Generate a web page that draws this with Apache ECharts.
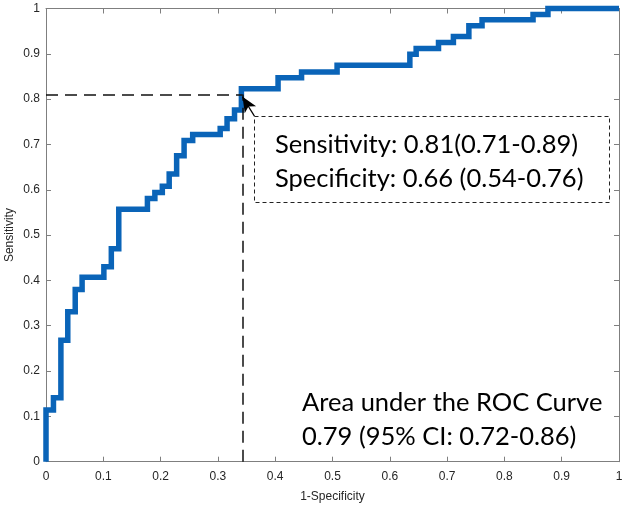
<!DOCTYPE html>
<html>
<head>
<meta charset="utf-8">
<script src="https://cdn.jsdelivr.net/npm/echarts@6/dist/echarts.min.js"></script>
<style>
html,body{margin:0;padding:0;background:#fff;}
#chart{width:625px;height:506px;}
</style>
</head>
<body>
<div id="chart"></div>
<script>
// ROC curve: x position of each upward jump (1-Specificity) and the sensitivity reached after it
const stepX = [0, 0.013, 0.026, 0.038, 0.051, 0.063, 0.101, 0.114, 0.127, 0.177, 0.19, 0.203, 0.215, 0.228, 0.241, 0.256, 0.304, 0.316, 0.329, 0.341, 0.405, 0.446, 0.508, 0.635, 0.646, 0.685, 0.711, 0.738, 0.761, 0.85, 0.876];
const stepY = [0.114, 0.141, 0.268, 0.331, 0.380, 0.407, 0.430, 0.470, 0.557, 0.581, 0.594, 0.608, 0.635, 0.675, 0.709, 0.722, 0.735, 0.757, 0.776, 0.823, 0.847, 0.860, 0.875, 0.899, 0.912, 0.925, 0.938, 0.962, 0.975, 0.987, 1.0];
const startPoint = [0, 0];
const endPoint = [1, 1];
// operating point
const cutoffX = 0.343;
const cutoffY = 0.81;
const arrowTail = [0.364, 0.762];
const tickValues = [0, 0.1, 0.2, 0.3, 0.4, 0.5, 0.6, 0.7, 0.8, 0.9, 1];
const boxLines = ['Sensitivity: 0.81(0.71-0.89)', 'Specificity: 0.66 (0.54-0.76)'];
const aucLines = ['Area under the ROC Curve', '0.79 (95% CI: 0.72-0.86)'];

const pts = [startPoint];
let prev = startPoint[1];
for (let i = 0; i < stepX.length; i++) {
  pts.push([stepX[i], prev]);
  pts.push([stepX[i], stepY[i]]);
  prev = stepY[i];
}
pts.push(endPoint);

const axisColor = '#7f7f7f';
const labelColor = '#262626';
const tickFont = 'Liberation Sans';
const annFont = 'Lato';
const annSize = 25.5;

const chart = echarts.init(document.getElementById('chart'));
const fmt = v => (tickValues.indexOf(Math.round(v * 10) / 10) >= 0 ? String(Math.round(v * 10) / 10) : '');

const baseAxis = {
  type: 'value', min: 0, max: 1, interval: 0.1,
  axisLine: {show: true, onZero: false, lineStyle: {color: axisColor, width: 1}},
  axisTick: {show: true, inside: true, length: 5, lineStyle: {color: axisColor}},
  splitLine: {show: false}
};

chart.setOption({
  animation: false,
  backgroundColor: '#fff',
  grid: {left: 46, right: 6, top: 8.5, bottom: 44.3, containLabel: false, outerBoundsMode: 'none'},
  xAxis: [
    Object.assign({}, baseAxis, {
      position: 'bottom',
      name: '1-Specificity', nameLocation: 'middle', nameGap: 29, nameMoveOverlap: false,
      nameTextStyle: {fontFamily: tickFont, fontSize: 12, color: labelColor},
      axisLabel: {fontFamily: tickFont, fontSize: 12, color: labelColor, margin: 9, formatter: fmt, showMaxLabel: true, showMinLabel: true}
    }),
    Object.assign({}, baseAxis, {position: 'top', axisLabel: {show: false}})
  ],
  yAxis: [
    Object.assign({}, baseAxis, {
      position: 'left',
      name: 'Sensitivity', nameLocation: 'middle', nameGap: 30, nameMoveOverlap: false,
      nameTextStyle: {fontFamily: tickFont, fontSize: 12, color: labelColor},
      axisLabel: {fontFamily: tickFont, fontSize: 12, color: labelColor, margin: 6, formatter: fmt}
    }),
    Object.assign({}, baseAxis, {position: 'right', axisLabel: {show: false}})
  ],
  series: [
    {
      type: 'line',
      data: pts,
      showSymbol: false,
      symbol: 'none',
      clip: false,
      lineStyle: {color: '#0a64b8', width: 5.5, join: 'miter', cap: 'butt'},
      z: 3,
      markLine: {
        silent: true,
        symbol: 'none',
        animation: false,
        label: {show: false},
        lineStyle: {color: '#111', width: 1.5, type: [12, 7]},
        data: [
          [{coord: [0, cutoffY]}, {coord: [cutoffX, cutoffY]}],
          [{coord: [cutoffX, 0]}, {coord: [cutoffX, cutoffY]}],
          [{coord: arrowTail, symbol: 'none', lineStyle: {type: 'solid', width: 1.2, color: '#000'}},
           {coord: [cutoffX, cutoffY - 0.005], symbol: 'arrow', symbolSize: [10, 15], lineStyle: {type: 'solid', width: 1.2, color: '#000'}}]
        ]
      }
    }
  ],
  graphic: [
    {type: 'rect', shape: {x: 254.5, y: 116.5, width: 355, height: 86},
     style: {fill: '#fff', stroke: '#222', lineWidth: 1, lineDash: [4, 3]}, z: 10},
    {type: 'text', left: 275, top: 132, z: 11,
     style: {text: boxLines[0], font: annSize + 'px ' + annFont, fill: '#000'}},
    {type: 'text', left: 275, top: 165.5, z: 11,
     style: {text: boxLines[1], font: annSize + 'px ' + annFont, fill: '#000'}},
    {type: 'text', left: 302, top: 389.5, z: 11,
     style: {text: aucLines[0], font: annSize + 'px ' + annFont, fill: '#000'}},
    {type: 'text', left: 302, top: 423.5, z: 11,
     style: {text: aucLines[1], font: annSize + 'px ' + annFont, fill: '#000'}}
  ]
});
</script>
</body>
</html>
